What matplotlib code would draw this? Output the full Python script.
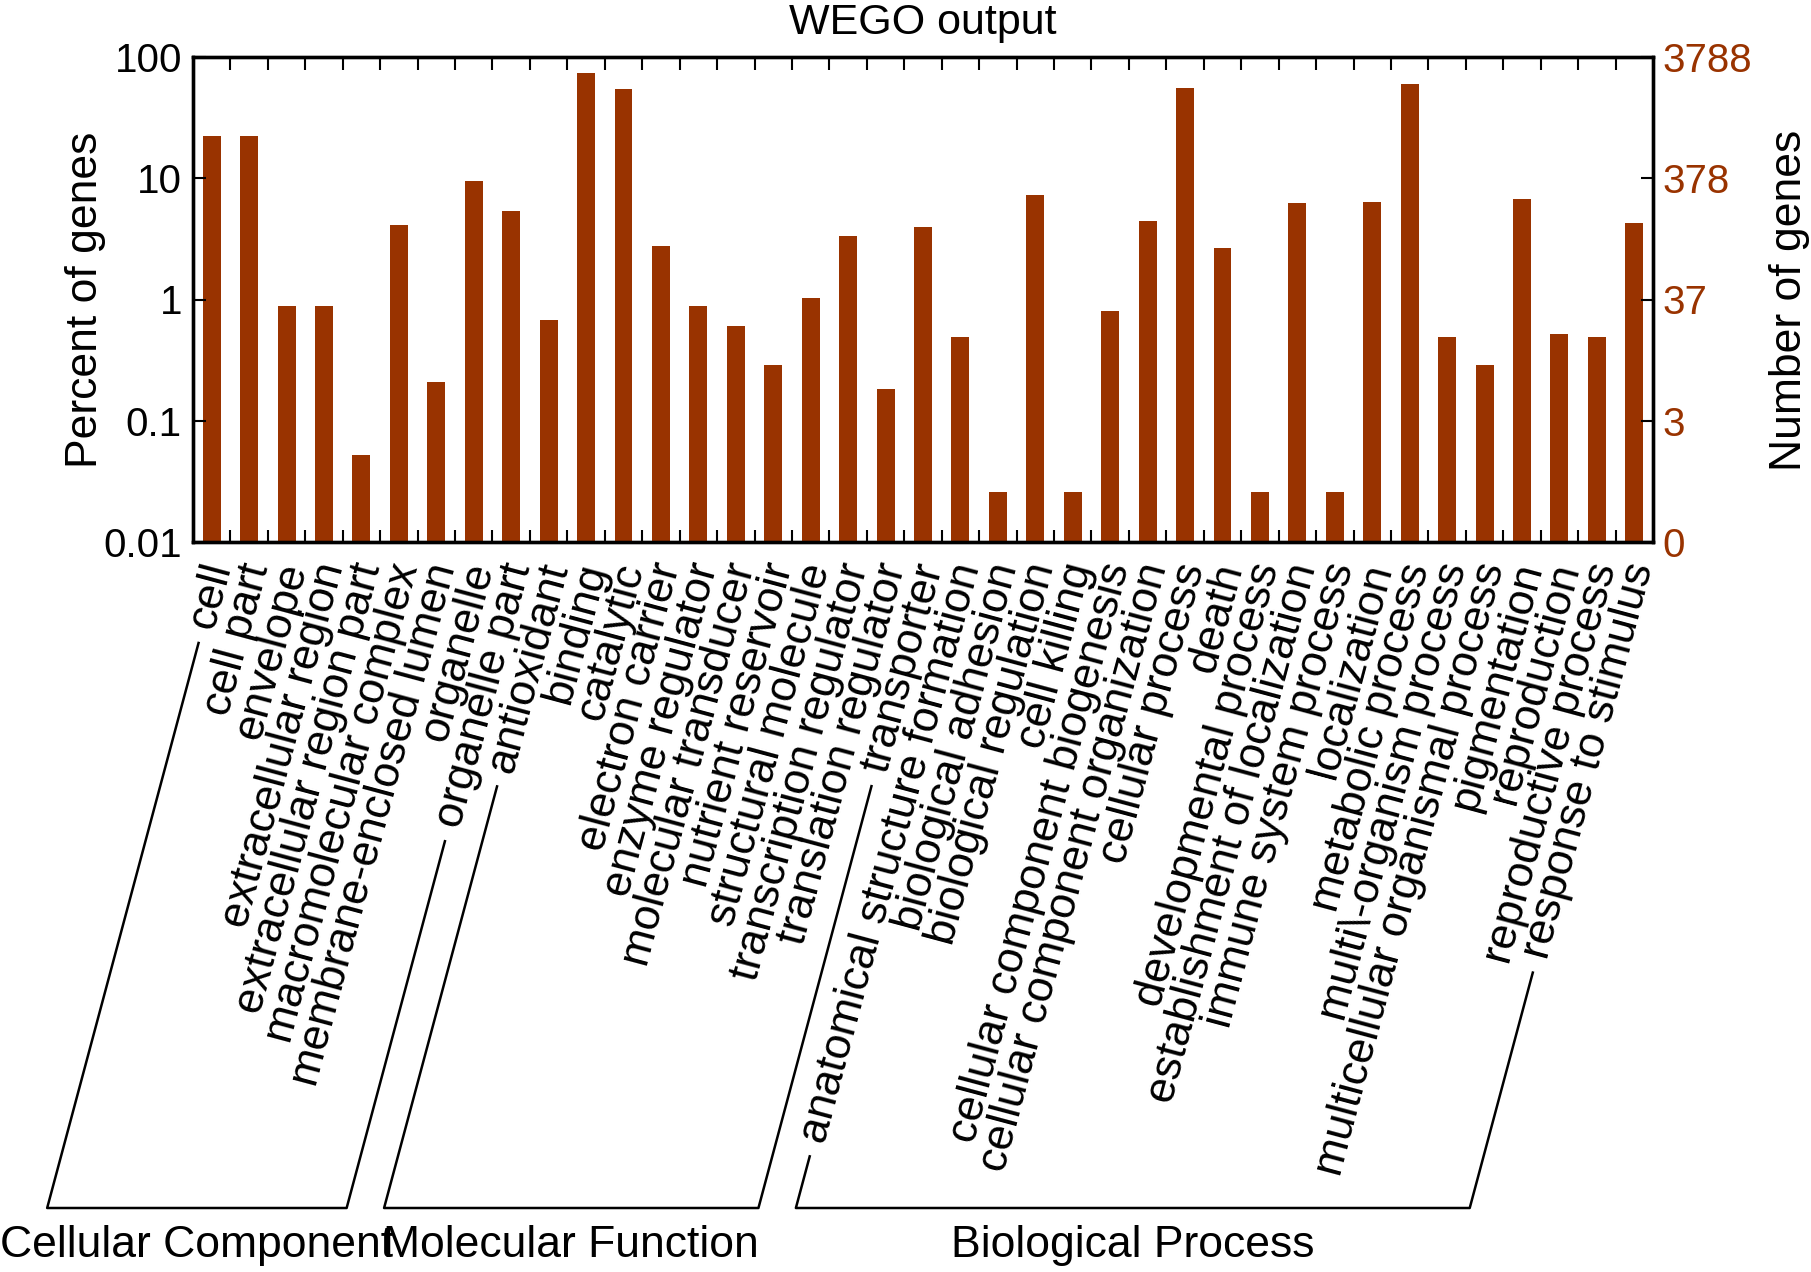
import numpy as np
import matplotlib
matplotlib.use('Agg')
import matplotlib.pyplot as plt
from matplotlib.lines import Line2D
from matplotlib.ticker import NullLocator
from matplotlib.transforms import ScaledTranslation

plt.rcParams['font.family'] = ['Liberation Sans', 'DejaVu Sans']

# GO terms, in plotting order
categories = [
    'cell', 'cell part', 'envelope', 'extracellular region', 'extracellular region part',
    'macromolecular complex', 'membrane-enclosed lumen', 'organelle', 'organelle part',
    'antioxidant', 'binding', 'catalytic', 'electron carrier', 'enzyme regulator',
    'molecular transducer', 'nutrient reservoir', 'structural molecule',
    'transcription regulator', 'translation regulator', 'transporter',
    'anatomical structure formation', 'biological adhesion', 'biological regulation',
    'cell killing', 'cellular component biogenesis', 'cellular component organization',
    'cellular process', 'death', 'developmental process', 'establishment of localization',
    'immune system process', 'localization', 'metabolic process',
    'multi\\-organism process', 'multicellular organismal process', 'pigmentation',
    'reproduction', 'reproductive process', 'response to stimulus',
]

# percent of genes
percent = [
    22.1, 22.1, 0.89, 0.89, 0.052, 4.08, 0.208, 9.5, 5.42,
    0.676, 74.4, 54.3, 2.76, 0.887, 0.60, 0.286, 1.02, 3.35, 0.182, 3.93,
    0.494, 0.026, 7.28, 0.026, 0.80, 4.42, 55.7, 2.67, 0.026, 6.29,
    0.026, 6.32, 60.4, 0.494, 0.286, 6.74, 0.52, 0.494, 4.28,
]

group_names = ['Cellular Component', 'Molecular Function', 'Biological Process']
group_sizes = [9, 11, 19]

total_genes = 3788
pct_ticks = [0.01, 0.1, 1, 10, 100]
pct_labels = ['0.01', '0.1', '1', '10', '100']

bar_color = '#993300'

W, H = 1811, 1272
fig = plt.figure(figsize=(W / 100, H / 100), dpi=100)
ax = fig.add_axes([193 / W, 1 - 542 / H, 1460 / W, 485 / H])

x = np.arange(len(categories)) + 0.5
ax.bar(x, percent, width=0.48, color=bar_color)
ax.set_xlim(0, len(categories))
ax.set_yscale('log')
ax.set_ylim(0.01, 100)
ax.set_yticks(pct_ticks)
ax.set_yticklabels(pct_labels)
ax.yaxis.set_minor_locator(NullLocator())
ax.set_xticks(np.arange(1, len(categories)))
ax.set_xticklabels([])
ax.tick_params(axis='both', direction='in', length=9, width=1.5, labelsize=29, pad=8)
ax.tick_params(axis='x', top=True, bottom=True)
for s in ax.spines.values():
    s.set_linewidth(2.4)

# right axis: number of genes
ax2 = ax.twinx()
ax2.set_yscale('log')
ax2.set_ylim(0.01, 100)
ax2.set_yticks(pct_ticks)
ax2.set_yticklabels([str(int(total_genes * p / 100)) for p in pct_ticks])
ax2.yaxis.set_minor_locator(NullLocator())
ax2.tick_params(axis='y', direction='in', length=9, width=1.5, labelsize=29,
                labelcolor=bar_color, pad=7)
for s in ax2.spines.values():
    s.set_linewidth(2.4)

fig.text(923 / W, 1 - 34 / H, 'WEGO output', ha='center', va='baseline', fontsize=31)
fig.text(86 / W, 1 - 300 / H, 'Percent of genes', rotation=90, ha='center', va='center', fontsize=32)
fig.text(1790 / W, 1 - 300 / H, 'Number of genes', rotation=90, ha='center', va='center', fontsize=32)

# rotated category labels
ang = 75
dx_px, dy_px = 8, -22
trans = ax.get_xaxis_transform() + ScaledTranslation(dx_px / 100, dy_px / 100, fig.dpi_scale_trans)
labels = []
for xi, name in zip(x, categories):
    t = ax.text(xi, 0, name, transform=trans, rotation=ang, rotation_mode='anchor',
                ha='right', va='center', fontsize=32)
    labels.append(t)

# group brackets, drawn in pixel space
fig.canvas.draw()
renderer = fig.canvas.get_renderer()
d = np.array([-np.cos(np.radians(ang)), -np.sin(np.radians(ang))])
y_base = H - 1208
gap = 15


def bracket_end(i):
    t = labels[i]
    w, h, _ = renderer.get_text_width_height_descent(t.get_text(), t.get_fontproperties(), ismath=False)
    anchor = np.array(ax.get_xaxis_transform().transform((x[i], 0))) + np.array([dx_px, dy_px])
    p0 = anchor + d * (w + gap)
    p1 = anchor + d * ((anchor[1] - y_base) / -d[1])
    return p0, p1


start = 0
for name, size in zip(group_names, group_sizes):
    a0, a1 = bracket_end(start)
    b0, b1 = bracket_end(start + size - 1)
    xs = np.array([a0[0], a1[0], b1[0], b0[0]]) / W
    ys = np.array([a0[1], a1[1], b1[1], b0[1]]) / H
    fig.add_artist(Line2D(xs, ys, color='black', lw=1.8, transform=fig.transFigure))
    fig.text((a1[0] + b1[0]) / 2 / W, 15 / H, name, ha='center', va='baseline', fontsize=32)
    start += size

fig.savefig('out.png', dpi=100)
